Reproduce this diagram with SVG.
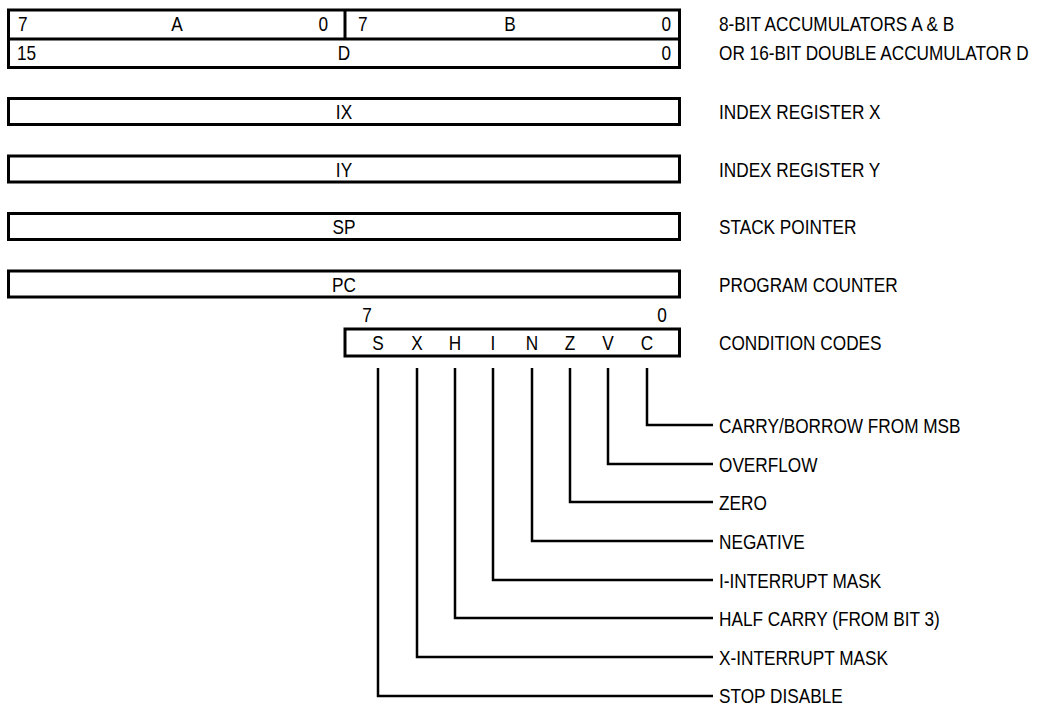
<svg xmlns="http://www.w3.org/2000/svg" width="1037" height="704" viewBox="0 0 1037 704">
<style>
text{font-family:"Liberation Sans Narrow","Arial Narrow","Liberation Sans",sans-serif;font-size:21px;fill:#000}
.box{fill:#fff;stroke:#000;stroke-width:3}
.ln{fill:none;stroke:#000;stroke-width:2.5}
.m{text-anchor:middle}
.e{text-anchor:end}
</style>
<rect width="1037" height="704" fill="#fff"/>
<g id="acc">
<rect class="box" x="8.5" y="10" width="671" height="57.5"/>
<line class="ln" x1="8.5" y1="39" x2="679.5" y2="39" style="stroke-width:3"/>
<line class="ln" x1="345" y1="10" x2="345" y2="39" style="stroke-width:3"/>
<text transform="translate(18 31) scale(.82 1)">7</text>
<text transform="translate(177 31) scale(.82 1)" class="m">A</text>
<text transform="translate(328 31) scale(.82 1)" class="e">0</text>
<text transform="translate(358 31) scale(.82 1)">7</text>
<text transform="translate(510 31) scale(.82 1)" class="m">B</text>
<text transform="translate(671 31) scale(.82 1)" class="e">0</text>
<text transform="translate(17 60) scale(.82 1)">15</text>
<text transform="translate(344 60) scale(.82 1)" class="m">D</text>
<text transform="translate(671 60) scale(.82 1)" class="e">0</text>
<text transform="translate(719 31) scale(.82 1)">8-BIT ACCUMULATORS A &amp; B</text>
<text transform="translate(719 60) scale(.82 1)">OR 16-BIT DOUBLE ACCUMULATOR D</text>
</g>
<g id="ix">
<rect class="box" x="8.5" y="98.5" width="671" height="26"/>
<text transform="translate(344 119) scale(.82 1)" class="m">IX</text>
<text transform="translate(719 119) scale(.82 1)">INDEX REGISTER X</text>
</g>
<g id="iy">
<rect class="box" x="8.5" y="156" width="671" height="26"/>
<text transform="translate(344 176.5) scale(.82 1)" class="m">IY</text>
<text transform="translate(719 176.5) scale(.82 1)">INDEX REGISTER Y</text>
</g>
<g id="sp">
<rect class="box" x="8.5" y="213.5" width="671" height="26"/>
<text transform="translate(344 234) scale(.82 1)" class="m">SP</text>
<text transform="translate(719 234) scale(.82 1)">STACK POINTER</text>
</g>
<g id="pc">
<rect class="box" x="8.5" y="271" width="671" height="26"/>
<text transform="translate(344 291.5) scale(.82 1)" class="m">PC</text>
<text transform="translate(719 291.5) scale(.82 1)">PROGRAM COUNTER</text>
</g>
<g id="ccr">
<text transform="translate(367 322) scale(.82 1)" class="m">7</text>
<text transform="translate(662 322) scale(.82 1)" class="m">0</text>
<rect class="box" x="345" y="329" width="334.5" height="27"/>
<text transform="translate(378 350) scale(.82 1)" class="m">S</text>
<text transform="translate(417 350) scale(.82 1)" class="m">X</text>
<text transform="translate(455 350) scale(.82 1)" class="m">H</text>
<text transform="translate(493 350) scale(.82 1)" class="m">I</text>
<text transform="translate(532 350) scale(.82 1)" class="m">N</text>
<text transform="translate(570 350) scale(.82 1)" class="m">Z</text>
<text transform="translate(608 350) scale(.82 1)" class="m">V</text>
<text transform="translate(647 350) scale(.82 1)" class="m">C</text>
<text transform="translate(719 350) scale(.82 1)">CONDITION CODES</text>
</g>
<g id="connectors">
<polyline class="ln" points="647,368 647,425 713,425"/>
<polyline class="ln" points="608,368 608,464 713,464"/>
<polyline class="ln" points="570,368 570,502 713,502"/>
<polyline class="ln" points="532,368 532,541 713,541"/>
<polyline class="ln" points="493,368 493,580 713,580"/>
<polyline class="ln" points="455,368 455,618 713,618"/>
<polyline class="ln" points="417,368 417,657 713,657"/>
<polyline class="ln" points="378,368 378,696 713,696"/>
</g>
<g id="bit-labels">
<text transform="translate(719 432.5) scale(.82 1)">CARRY/BORROW FROM MSB</text>
<text transform="translate(719 471.5) scale(.82 1)">OVERFLOW</text>
<text transform="translate(719 509.5) scale(.82 1)">ZERO</text>
<text transform="translate(719 548.5) scale(.82 1)">NEGATIVE</text>
<text transform="translate(719 587.5) scale(.82 1)">I-INTERRUPT MASK</text>
<text transform="translate(719 625.5) scale(.82 1)">HALF CARRY (FROM BIT 3)</text>
<text transform="translate(719 664.5) scale(.82 1)">X-INTERRUPT MASK</text>
<text transform="translate(719 702.5) scale(.82 1)">STOP DISABLE</text>
</g>
</svg>
